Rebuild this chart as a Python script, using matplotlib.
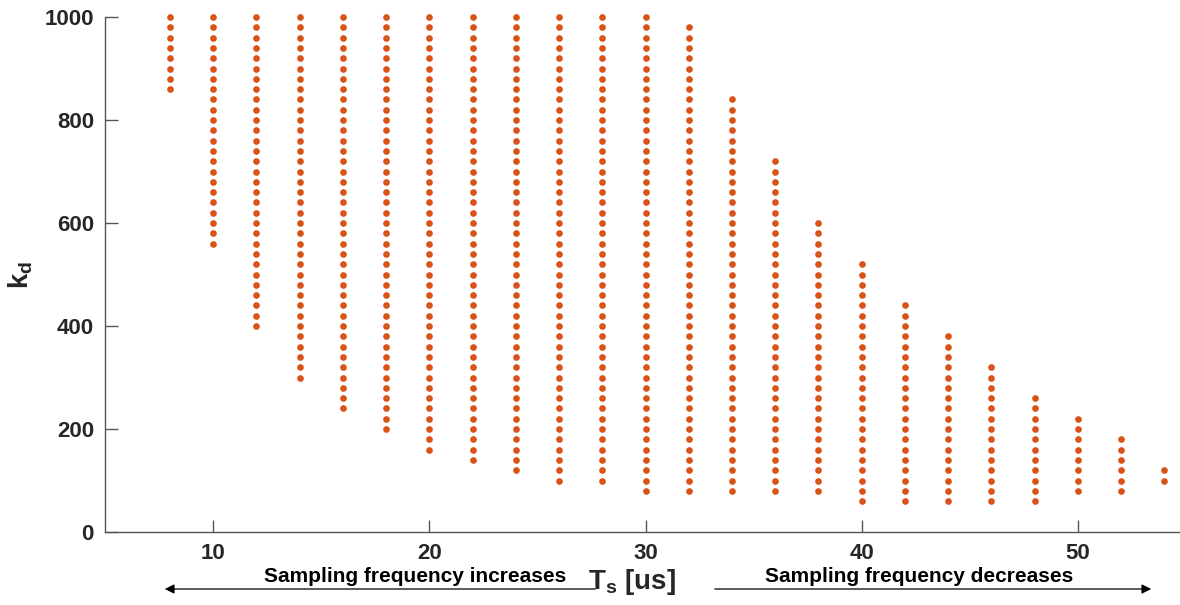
import numpy as np
import matplotlib
matplotlib.use("Agg")
import matplotlib.pyplot as plt

plt.rcParams['font.family'] = ['Liberation Sans', 'DejaVu Sans']
plt.rcParams['font.weight'] = 'bold'
plt.rcParams['mathtext.fontset'] = 'custom'
plt.rcParams['mathtext.rm'] = 'Liberation Sans:bold'
plt.rcParams['mathtext.it'] = 'Liberation Sans:bold'
plt.rcParams['mathtext.bf'] = 'Liberation Sans:bold'

# sampling period columns and the kd range found stable in each
ts_values = [8, 10, 12, 14, 16, 18, 20, 22, 24, 26, 28, 30,
             32, 34, 36, 38, 40, 42, 44, 46, 48, 50, 52, 54]
kd_low = [860, 560, 400, 300, 240, 200, 160, 140, 120, 100, 100, 80,
          80, 80, 80, 80, 60, 60, 60, 60, 60, 80, 80, 100]
kd_high = [1000, 1000, 1000, 1000, 1000, 1000, 1000, 1000, 1000, 1000, 1000, 1000,
           980, 840, 720, 600, 520, 440, 380, 320, 260, 220, 180, 120]
kd_step = 20

xs, ys = [], []
for ts, lo, hi in zip(ts_values, kd_low, kd_high):
    col = np.arange(lo, hi + 1, kd_step)
    xs.extend([ts] * len(col))
    ys.extend(col)

fig = plt.figure(figsize=(11.8, 6.05), dpi=100)
ax = fig.add_axes([105 / 1180, 1 - 532 / 605, (1186 - 105) / 1180, (532 - 17) / 605])

ax.plot(xs, ys, 'o', color='#D95319', markersize=4.8, markeredgewidth=0, clip_on=False)

ax.set_xlim(5, 55)
ax.set_ylim(0, 1000)
ax.set_xticks([10, 20, 30, 40, 50])
ax.set_yticks([0, 200, 400, 600, 800, 1000])

for side in ['top', 'right']:
    ax.spines[side].set_visible(False)
for side in ['left', 'bottom']:
    ax.spines[side].set_color('#555555')
    ax.spines[side].set_linewidth(1.0)

ax.tick_params(direction='in', length=9, width=1.0, color='#555555',
               labelsize=16, labelcolor='#262626', pad=8)
for lab in ax.get_xticklabels() + ax.get_yticklabels():
    lab.set_fontweight('bold')

fig.text(21 / 1180, 1 - 275 / 605, r'$\mathbf{k_d}$', fontsize=20, rotation=90,
         color='#262626', ha='center', va='center')

fig.text(632 / 1180, 1 - 582 / 605, r'$\mathbf{T_s}$ [us]', fontsize=20,
         fontweight='bold', color='#262626', ha='center', va='center')

fig.text(415 / 1180, 1 - 577 / 605, 'Sampling frequency increases', fontsize=15,
         fontweight='bold', color='black', ha='center', va='center')
fig.text(919 / 1180, 1 - 576 / 605, 'Sampling frequency decreases', fontsize=15,
         fontweight='bold', color='black', ha='center', va='center')

ay = 1 - 589 / 605
fig.add_artist(matplotlib.patches.FancyArrowPatch(
    (598 / 1180, ay), (162 / 1180, ay), transform=fig.transFigure,
    arrowstyle='-|>', mutation_scale=14, color='black', linewidth=0.9))
fig.add_artist(matplotlib.patches.FancyArrowPatch(
    (712 / 1180, ay), (1154 / 1180, ay), transform=fig.transFigure,
    arrowstyle='-|>', mutation_scale=14, color='black', linewidth=0.9))

fig.savefig('out.png', dpi=100)
